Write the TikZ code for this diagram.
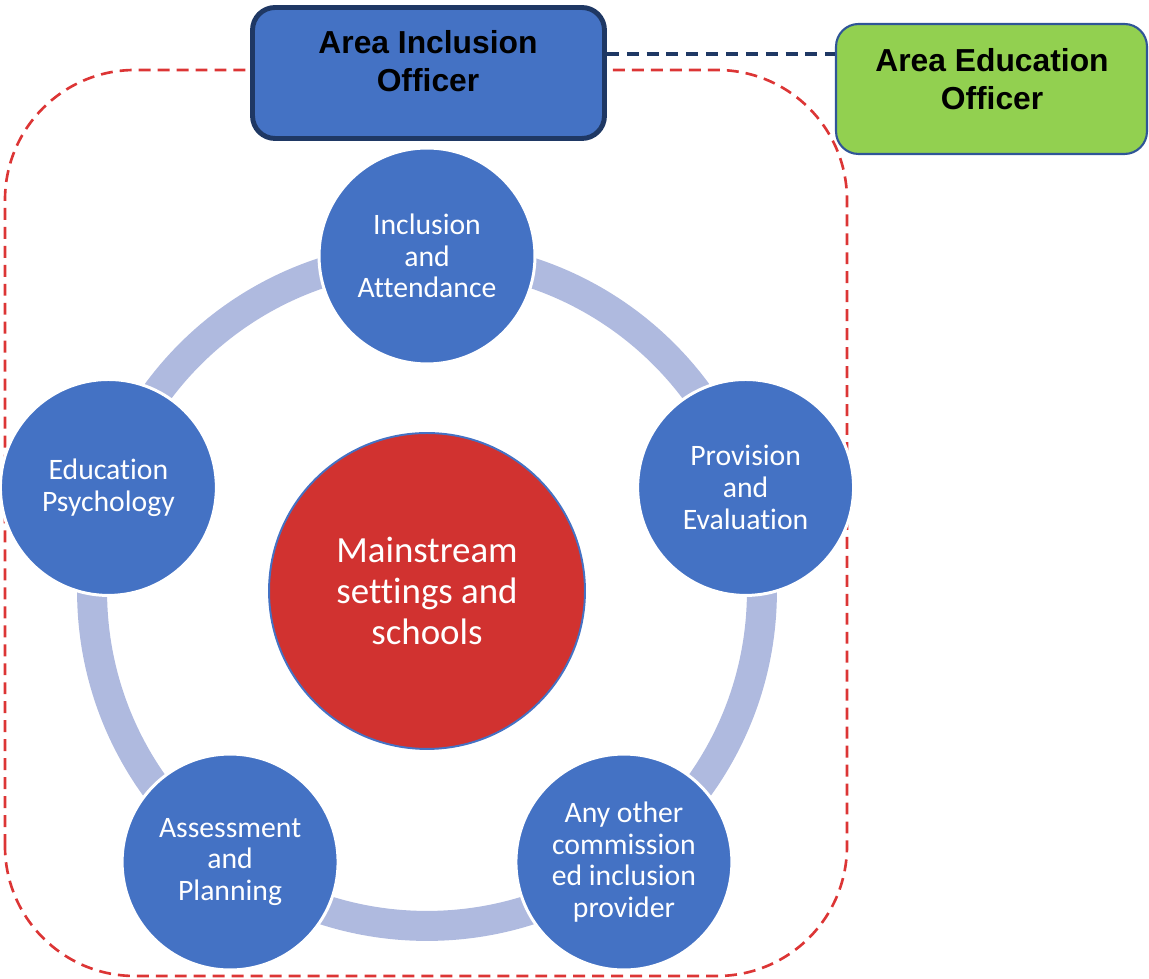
\documentclass[tikz,border=0pt]{standalone}
\usepackage{fontspec}
\setmainfont{Carlito}[Ligatures=NoCommon]
\newfontfamily\headfont{Liberation Sans}
\usetikzlibrary{positioning}
\definecolor{mBlue}{HTML}{4472C4}
\definecolor{mNavy}{HTML}{1F3864}
\definecolor{mEdge}{HTML}{2F5597}
\definecolor{mGreen}{HTML}{92D050}
\definecolor{mRed}{HTML}{D13230}
\definecolor{mFrame}{HTML}{DC3535}
\definecolor{mRing}{HTML}{AFBADF}

\begin{document}
\begin{tikzpicture}[x=0.02cm, y=0.02cm,
    service/.style={circle, fill=mBlue, draw=white, line width=1.7pt, minimum size=4.32cm,
      inner sep=0pt, text=white, align=center, font=\fontsize{16.9}{18.1}\selectfont},
    hubnode/.style={circle, fill=mRed, draw=mBlue, line width=1.1pt, minimum size=6.32cm,
      inner sep=0pt, text=white, align=center, font=\fontsize{21}{23.2}\selectfont},
    officebox/.style={rounded corners=0.45cm, inner sep=0pt},
    boxtext/.style={align=center, font=\headfont\bfseries\fontsize{18.1}{21.5}\selectfont}]
  \useasboundingbox (0,0) rectangle (1149,979);
  % team boundary
  \draw[mFrame, line width=1.5pt, dash pattern=on 6.8pt off 4pt, rounded corners=2.6cm]
    (5,3) rectangle (847,909);
  % cycle of services
  \coordinate (hub) at (427,388);
  \draw[mRing, line width=0.6cm] (hub) circle[radius=6.7cm];
  \foreach \a/\nm/\txt in {90/incl/{Inclusion\\and\\Attendance},
      18/prov/{Provision\\and\\Evaluation},
      -54/other/{Any other\\commission\\ed inclusion\\provider},
      -126/assess/{Assessment\\and\\Planning},
      162/psych/{Education\\Psychology}}
    \node[service] (\nm) at ([shift={(\a:335)}]hub) {\txt};
  \node[hubnode] (main) at (hub) {Mainstream\\settings and\\schools};
  % officers
  \node[officebox, fill=mBlue, draw=mNavy, line width=2.8pt, minimum width=7.04cm,
    minimum height=2.62cm] (aio) at (428.5,906) {};
  \node[boxtext] (aiotext) at (428,918) {Area Inclusion\\Officer};
  \node[officebox, fill=mGreen, draw=mEdge, line width=1.2pt, minimum width=6.22cm,
    minimum height=2.6cm] (aeo) at (991.5,890) {};
  \node[boxtext] (aeotext) at (992,900) {Area Education\\Officer};
  \coordinate (link) at ([yshift=0.38cm]aio.east);
  \draw[mNavy, line width=2pt, dash pattern=on 6.8pt off 4.5pt] (link) -- (link -| aeo.west);
\end{tikzpicture}
\end{document}
